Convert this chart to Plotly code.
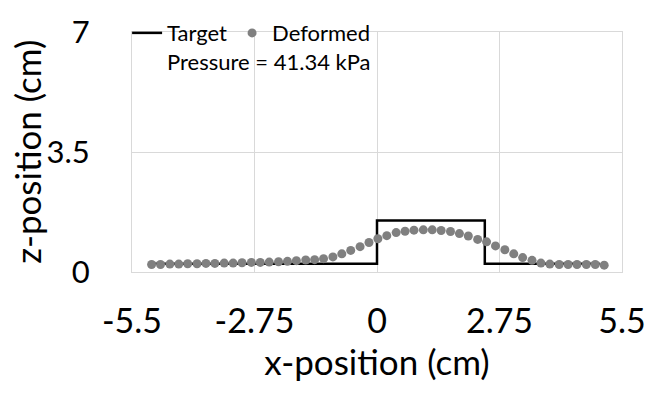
import plotly.graph_objects as go

# Target profile (cm)
target_x = [-5.0, 0.0, 0.0, 2.42, 2.42, 5.0]
target_z = [0.24, 0.24, 1.5, 1.5, 0.24, 0.24]

# Deformed profile (cm)
deformed_x = [-5.06, -4.86, -4.65, -4.45, -4.25, -4.04, -3.84, -3.64, -3.43, -3.23,
              -3.03, -2.82, -2.62, -2.42, -2.21, -2.01, -1.81, -1.60, -1.40, -1.20,
              -0.99, -0.79, -0.59, -0.38, -0.18, 0.02, 0.22, 0.43, 0.63, 0.83,
              1.04, 1.24, 1.44, 1.65, 1.85, 2.05, 2.26, 2.46, 2.66, 2.87,
              3.07, 3.27, 3.48, 3.68, 3.88, 4.09, 4.29, 4.49, 4.70, 4.90, 5.10]
deformed_z = [0.22, 0.22, 0.23, 0.23, 0.24, 0.24, 0.25, 0.25, 0.26, 0.26,
              0.27, 0.28, 0.28, 0.29, 0.30, 0.31, 0.33, 0.35, 0.36, 0.39,
              0.44, 0.53, 0.63, 0.74, 0.86, 0.97, 1.06, 1.15, 1.19, 1.22,
              1.23, 1.23, 1.21, 1.18, 1.12, 1.05, 0.95, 0.88, 0.76, 0.65,
              0.53, 0.42, 0.34, 0.26, 0.23, 0.22, 0.22, 0.22, 0.22, 0.22, 0.20]

x_ticks = [-5.5, -2.75, 0, 2.75, 5.5]
x_tick_labels = ["-5.5", "-2.75", "0", "2.75", "5.5"]
z_ticks = [0, 3.5, 7]
z_tick_labels = ["0", "3.5", "7"]

pressure_label = "Pressure = 41.34 kPa"

FONT = "Lato"
GRID = "#d9d9d9"

fig = go.Figure()
fig.add_trace(go.Scatter(x=target_x, y=target_z, mode="lines", name="Target",
                         line=dict(color="black", width=2.5)))
fig.add_trace(go.Scatter(x=deformed_x, y=deformed_z, mode="markers", name="Deformed",
                         marker=dict(color="#808080", size=9, line=dict(width=0))))

fig.add_annotation(x=0.068, y=0.877, xref="paper", yref="paper", text=pressure_label,
                   showarrow=False, xanchor="left", yanchor="middle",
                   font=dict(family=FONT, size=22, color="black"))

fig.add_annotation(x=-0.215, y=0.5, xref="paper", yref="paper", text="z-position (cm)",
                   showarrow=False, xanchor="center", yanchor="middle", textangle=-90,
                   font=dict(family=FONT, size=35, color="black"))

fig.update_layout(
    width=658, height=394,
    margin=dict(l=132, r=28, t=25, b=122),
    paper_bgcolor="white", plot_bgcolor="white",
    font=dict(family=FONT, color="black"),
    showlegend=True,
    legend=dict(orientation="h", x=-0.01, y=1.083, xanchor="left", yanchor="top",
                bgcolor="rgba(0,0,0,0)", font=dict(family=FONT, size=22),
                itemwidth=30, tracegroupgap=0),
    xaxis=dict(range=[-5.5, 5.5], tickvals=x_ticks, ticktext=x_tick_labels,
               showgrid=True, gridcolor=GRID, gridwidth=1, zeroline=False,
               showline=True, linecolor=GRID, linewidth=1, mirror=True,
               ticks="", ticklabelstandoff=19,
               tickfont=dict(family=FONT, size=34),
               title=dict(text="x-position (cm)", font=dict(family=FONT, size=35), standoff=8)),
    yaxis=dict(range=[0, 7], tickvals=z_ticks, ticktext=z_tick_labels,
               showgrid=True, gridcolor=GRID, gridwidth=1, zeroline=False,
               showline=True, linecolor=GRID, linewidth=1, mirror=True,
               ticks="", ticklabelstandoff=35,
               tickfont=dict(family=FONT, size=31)),
)

fig.write_html("out.html")
